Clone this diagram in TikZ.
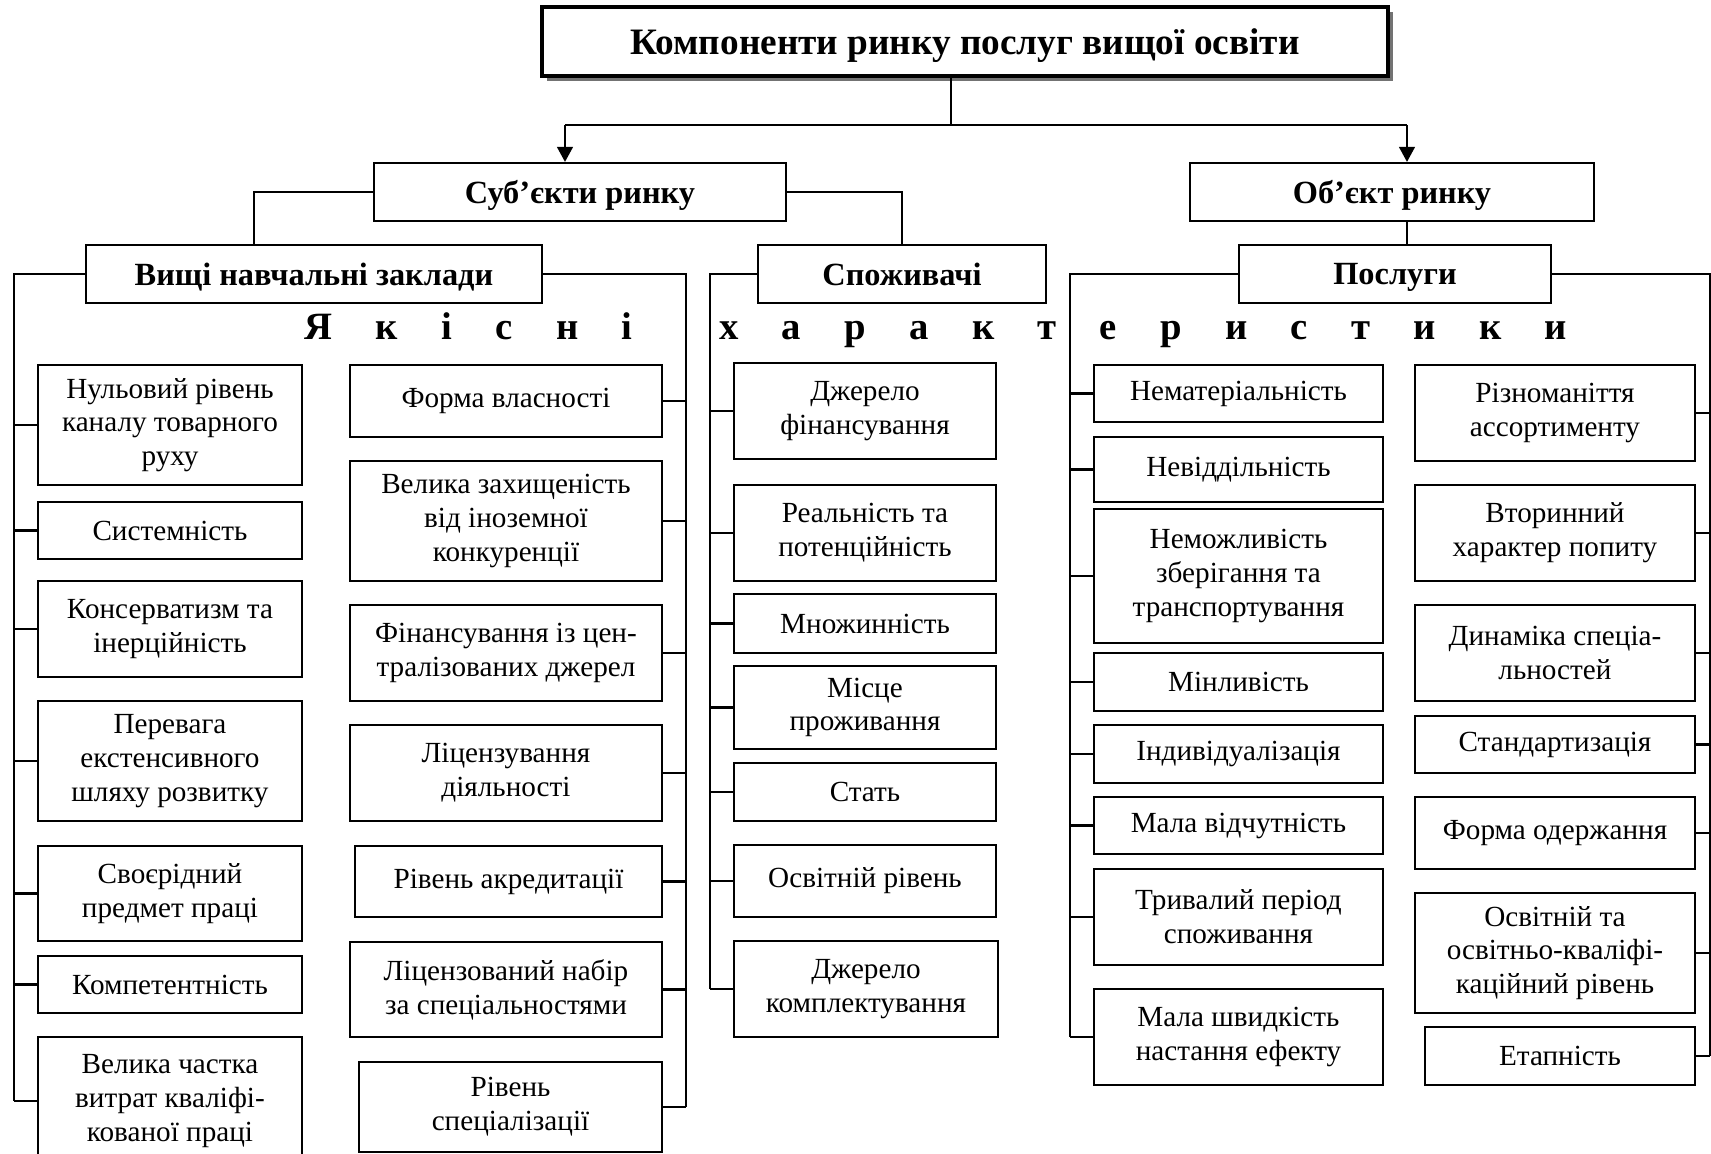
\documentclass[tikz,border=0pt]{standalone}
\usepackage{fontspec}
\setmainfont{Liberation Serif}
\usepackage{tikz}
\usetikzlibrary{arrows.meta,shadows,calc}

\begin{document}
\begin{tikzpicture}[
  x=0.01cm,y=-0.01cm,
  line width=0.6pt,
  head/.style={rectangle,draw,line width=1.1pt,fill=white,inner sep=0pt,text depth=0pt,
               font=\fontsize{10.6}{13}\selectfont\bfseries,
               drop shadow={shadow xshift=0.05cm,shadow yshift=-0.05cm,fill=black!55,opacity=1}},
  grp/.style={rectangle,draw,fill=white,inner sep=0pt,minimum height=0.58cm,text depth=0pt,
              font=\fontsize{9.2}{11}\selectfont\bfseries},
  item/.style={rectangle,draw,fill=white,inner sep=0pt,align=center,
               font=\fontsize{8.3}{9.6}\selectfont},
  colA/.style={item,minimum width=2.64cm},
  colB/.style={item,minimum width=3.12cm},
  colC/.style={item,minimum width=2.62cm},
  colD/.style={item,minimum width=2.88cm},
  colE/.style={item,minimum width=2.80cm},
  spaced/.style={inner sep=0pt,font=\fontsize{11}{13}\selectfont\bfseries},
  arr/.style={-{Triangle[length=4.3pt,width=4.5pt]}}
]
\useasboundingbox (0,0) rectangle (1711,1154);

% top levels
\node[head,minimum width=8.46cm,minimum height=0.69cm] (title) at (965,41.5) {Компоненти ринку послуг вищої освіти};
\node[grp,minimum width=4.12cm] (subj) at (580,192) {Суб’єкти ринку};
\node[grp,minimum width=4.04cm] (obj) at (1392,192) {Об’єкт ринку};
\node[grp,minimum width=4.56cm] (vnz) at (314,274) {Вищі навчальні заклади};
\node[grp,minimum width=2.88cm] (spoz) at (902,274) {Споживачі};
\node[grp,minimum width=3.12cm] (posl) at (1395,274) {Послуги};

\node[spaced,anchor=base] (yakh) at (936,339) {\hbox to 12.62cm{Я\hfill к\hfill і\hfill с\hfill н\hfill і\hfill\hfill х\hfill а\hfill р\hfill а\hfill к\hfill т\hfill е\hfill р\hfill и\hfill с\hfill т\hfill и\hfill к\hfill и}};

% ВНЗ
\node[colA,minimum height=1.20cm] (A1) at (170,425) {Нульовий рівень\\каналу товарного\\руху};
\node[colA,minimum height=0.57cm] (A2) at (170,530.5) {Системність};
\node[colA,minimum height=0.96cm] (A3) at (170,629) {Консерватизм та\\інерційність};
\node[colA,minimum height=1.20cm] (A4) at (170,761) {Перевага\\екстенсивного\\шляху розвитку};
\node[colA,minimum height=0.95cm] (A5) at (170,893.5) {Своєрідний\\предмет праці};
\node[colA,minimum height=0.57cm] (A6) at (170,984.5) {Компетентність};
\node[colA,minimum height=1.28cm] (A7) at (170,1101) {Велика частка\\витрат кваліфі-\\кованої праці};

\node[colB,minimum height=0.72cm] (B1) at (506,401) {Форма власності};
\node[colB,minimum height=1.20cm] (B2) at (506,521) {Велика захищеність\\від іноземної\\конкуренції};
\node[colB,minimum height=0.96cm] (B3) at (506,653) {Фінансування із цен-\\тралізованих джерел};
\node[colB,minimum height=0.96cm] (B4) at (506,773) {Ліцензування\\діяльності};
\node[colB,minimum width=3.07cm,minimum height=0.71cm] (B5) at (508.5,881.5) {Рівень акредитації};
\node[colB,minimum height=0.95cm] (B6) at (506,989.5) {Ліцензований набір\\за спеціальностями};
\node[colB,minimum width=3.03cm,minimum height=0.90cm] (B7) at (510.5,1107) {Рівень\\спеціалізації};

% споживачі
\node[colC,minimum height=0.96cm] (C1) at (865,411) {Джерело\\фінансування};
\node[colC,minimum height=0.96cm] (C2) at (865,533) {Реальність та\\потенційність};
\node[colC,minimum height=0.59cm] (C3) at (865,623.5) {Множинність};
\node[colC,minimum height=0.83cm] (C4) at (865,707.5) {Місце\\проживання};
\node[colC,minimum height=0.58cm] (C5) at (865,792) {Стать};
\node[colC,minimum height=0.72cm] (C6) at (865,881) {Освітній рівень};
\node[colC,minimum width=2.64cm,minimum height=0.96cm] (C7) at (866,989) {Джерело\\комплектування};

% послуги
\node[colD,minimum height=0.57cm] (D1) at (1238.5,393.5) {Нематеріальність};
\node[colD,minimum height=0.65cm] (D2) at (1238.5,469.5) {Невіддільність};
\node[colD,minimum height=1.34cm] (D3) at (1238.5,576) {Неможливість\\зберігання та\\транспортування};
\node[colD,minimum height=0.58cm] (D4) at (1238.5,682) {Мінливість};
\node[colD,minimum height=0.58cm] (D5) at (1238.5,754) {Індивідуалізація};
\node[colD,minimum height=0.57cm] (D6) at (1238.5,825.5) {Мала відчутність};
\node[colD,minimum height=0.96cm] (D7) at (1238.5,917) {Тривалий період\\споживання};
\node[colD,minimum height=0.96cm] (D8) at (1238.5,1037) {Мала швидкість\\настання ефекту};

\node[colE,minimum height=0.96cm] (E1) at (1555,413) {Різноманіття\\ассортименту};
\node[colE,minimum height=0.96cm] (E2) at (1555,533) {Вторинний\\характер попиту};
\node[colE,minimum height=0.96cm] (E3) at (1555,653) {Динаміка спеціа-\\льностей};
\node[colE,minimum height=0.57cm] (E4) at (1555,744.5) {Стандартизація};
\node[colE,minimum height=0.72cm] (E5) at (1555,833) {Форма одержання};
\node[colE,minimum height=1.20cm] (E6) at (1555,953) {Освітній та\\освітньо-кваліфі-\\каційний рівень};
\node[colE,minimum width=2.69cm,minimum height=0.58cm] (E7) at (1560,1056) {Етапність};

% joints and bus lines
\coordinate (jL) at (565,125);
\coordinate (jR) at (1407,125);
\coordinate (xA) at (14,0);
\coordinate (xB) at (686,0);
\coordinate (xC) at (710,0);
\coordinate (xD) at (1070,0);
\coordinate (xE) at (1710,0);

\draw ([xshift=-0.14cm]title.south) -- ([xshift=-0.14cm]title.south |- jL);
\draw (jL) -- (jR);
\draw[arr] (jL) -- (jL |- subj.north);
\draw[arr] (jR) -- (jR |- obj.north);
\draw (subj.west) -| ([xshift=-0.6cm]vnz.north);
\draw (subj.east) -| (spoz.north);
\draw (jR |- obj.south) -- (jR |- posl.north);

\draw (vnz.west) -| (A7.west -| xA);
\draw (vnz.east) -| (B7.east -| xB);
\draw (spoz.west) -| (C7.west -| xC);
\draw (posl.west) -| (D8.west -| xD);
\draw (posl.east) -| (E7.east -| xE);

\draw (A1.west) -- (A1.west -| xA) (A2.west) -- (A2.west -| xA) (A3.west) -- (A3.west -| xA)
      (A4.west) -- (A4.west -| xA) (A5.west) -- (A5.west -| xA) (A6.west) -- (A6.west -| xA)
      (A7.west) -- (A7.west -| xA);
\draw (B1.east) -- (B1.east -| xB) (B2.east) -- (B2.east -| xB) (B3.east) -- (B3.east -| xB)
      (B4.east) -- (B4.east -| xB) (B5.east) -- (B5.east -| xB) (B6.east) -- (B6.east -| xB)
      (B7.east) -- (B7.east -| xB);
\draw (C1.west) -- (C1.west -| xC) (C2.west) -- (C2.west -| xC) (C3.west) -- (C3.west -| xC)
      (C4.west) -- (C4.west -| xC) (C5.west) -- (C5.west -| xC) (C6.west) -- (C6.west -| xC)
      (C7.west) -- (C7.west -| xC);
\draw (D1.west) -- (D1.west -| xD) (D2.west) -- (D2.west -| xD) (D3.west) -- (D3.west -| xD)
      (D4.west) -- (D4.west -| xD) (D5.west) -- (D5.west -| xD) (D6.west) -- (D6.west -| xD)
      (D7.west) -- (D7.west -| xD) (D8.west) -- (D8.west -| xD);
\draw (E1.east) -- (E1.east -| xE) (E2.east) -- (E2.east -| xE) (E3.east) -- (E3.east -| xE)
      (E4.east) -- (E4.east -| xE) (E5.east) -- (E5.east -| xE) (E6.east) -- (E6.east -| xE)
      (E7.east) -- (E7.east -| xE);
\end{tikzpicture}
\end{document}
